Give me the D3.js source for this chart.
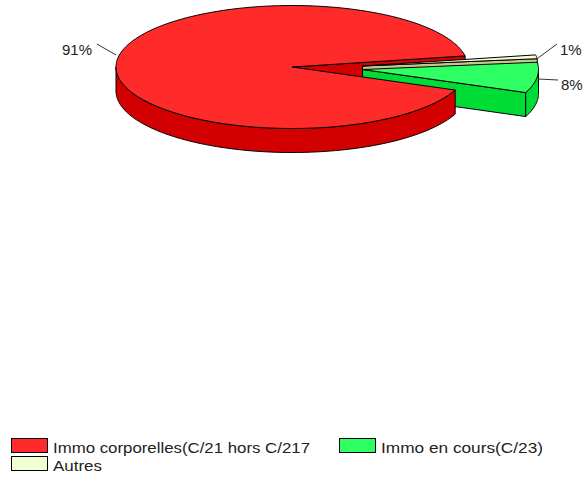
<!DOCTYPE html>
<html>
<head>
<meta charset="utf-8">
<script src="https://cdnjs.cloudflare.com/ajax/libs/d3/7.8.5/d3.min.js"></script>
<style>
html,body{margin:0;padding:0;background:#fff;}
svg{display:block;}
text{font-family:"Liberation Sans",sans-serif;fill:#222;}
</style>
</head>
<body>
<div id="wrapper"></div>
<script>
var categories = ['Immo corporelles(C/21 hors C/217', 'Immo en cours(C/23)', 'Autres'];
var values = [91, 8, 1];
var labels = ['91%', '8%', '1%'];
var topColors = ['#FF2A2A', '#2EFF62', '#F2FFD2'];
var sideColors = ['#D20000', '#00DC36', '#C4C88C'];

var width = 588, height = 477;
var cx = 292, cy = 67, rx = 176, ry = 61.5, depth = 24;
// exploded slices, offset of each centre
var explodeX = [0, 70.5, 70.5], explodeY = [0, 2.5, -1];

var canvas = d3.select('#wrapper').append('svg')
	.attr('width', width)
	.attr('height', height);

var rad = Math.PI / 180;
var x = d3.scaleLinear().domain([-1, 1]).range([-rx, rx]);
var y = d3.scaleLinear().domain([-1, 1]).range([-ry, ry]);

// counter clockwise from just above 3 o'clock
var pie = d3.pie().sort(null).startAngle(-10.4 * rad).endAngle(-370.4 * rad);
var slices = pie(values);

var line = d3.line();

function rim(a0, a1, ox, oy) {
	var n = Math.ceil(Math.abs(a1 - a0) / rad) + 1;
	return d3.range(n + 1).map(function(i) {
		var a = a0 + (a1 - a0) * i / n;
		return [ox + x(Math.cos(a)), oy + y(Math.sin(a))];
	});
}

function center(i) {
	return [cx + explodeX[i], cy + explodeY[i]];
}

function outline(g, pts, fill) {
	g.append('path').attr('d', line(pts) + 'Z')
		.attr('fill', fill)
		.attr('stroke', '#000')
		.attr('stroke-width', 1)
		.attr('stroke-linejoin', 'round');
}

function cutWall(g, i, a) {
	var c = center(i);
	var e = rim(a, a, c[0], c[1])[0];
	outline(g, [c, e, [e[0], e[1] + depth], [c[0], c[1] + depth]], sideColors[i]);
}

function rimWall(g, i, a0, a1) {
	var c = center(i);
	// only the front half of the rim can be seen
	var lo = Math.max(Math.min(a0, a1), 0), hi = Math.min(Math.max(a0, a1), Math.PI);
	if (hi <= lo) return;
	var top = rim(lo, hi, c[0], c[1]);
	var bottom = top.map(function(p) { return [p[0], p[1] + depth]; }).reverse();
	outline(g, top.concat(bottom), sideColors[i]);
}

function topFace(g, i, a0, a1) {
	var c = center(i);
	outline(g, [c].concat(rim(a0, a1, c[0], c[1])), topColors[i]);
}

var chart = canvas.append('g').attr('id', 'pie');
var red = slices[0];
var turn = 2 * Math.PI;

// back cut of the big slice goes behind the exploded ones
cutWall(chart, 0, red.startAngle);

[2, 1].forEach(function(i) {
	var s = slices[i];
	cutWall(chart, i, s.startAngle);
	rimWall(chart, i, s.startAngle + turn, s.endAngle + turn);
	topFace(chart, i, s.startAngle, s.endAngle);
});

rimWall(chart, 0, red.startAngle + turn, red.endAngle + turn);
topFace(chart, 0, red.startAngle, red.endAngle);

// percent labels with their leaders
var leaderData = [
	{i: 0, from: [116, 55], to: [97, 44], tx: 62, ty: 55},
	{i: 1, from: [538, 79], to: [558, 80], tx: 561, ty: 90},
	{i: 2, from: [538, 58], to: [557, 44], tx: 560, ty: 55}
];
canvas.append('g').attr('id', 'leaders').selectAll('line')
	.data(leaderData).enter().append('line')
	.attr('x1', function(d) { return d.from[0]; })
	.attr('y1', function(d) { return d.from[1]; })
	.attr('x2', function(d) { return d.to[0]; })
	.attr('y2', function(d) { return d.to[1]; })
	.style('stroke', '#333').style('stroke-width', '1px');
canvas.append('g').attr('id', 'pct').selectAll('text')
	.data(leaderData).enter().append('text')
	.attr('x', function(d) { return d.tx; })
	.attr('y', function(d) { return d.ty; })
	.style('font-size', '15px')
	.text(function(d) { return labels[d.i]; });

// legend
var legendPos = [[11, 438], [339, 438], [11, 456]];
var legendLen = [257, 162, 49];
var legend = canvas.append('g').attr('id', 'legend').selectAll('g')
	.data(categories).enter().append('g')
	.attr('transform', function(d, i) { return 'translate(' + legendPos[i][0] + ',' + legendPos[i][1] + ')'; });
legend.append('rect')
	.attr('x', 0.5).attr('y', 0.5)
	.attr('width', 36).attr('height', 14)
	.attr('fill', function(d, i) { return topColors[i]; })
	.attr('stroke', '#000');
legend.append('text')
	.attr('x', 42).attr('y', 15)
	.attr('textLength', function(d, i) { return legendLen[i]; })
	.attr('lengthAdjust', 'spacingAndGlyphs')
	.style('font-size', '14px')
	.text(function(d) { return d; });
</script>
</body>
</html>
